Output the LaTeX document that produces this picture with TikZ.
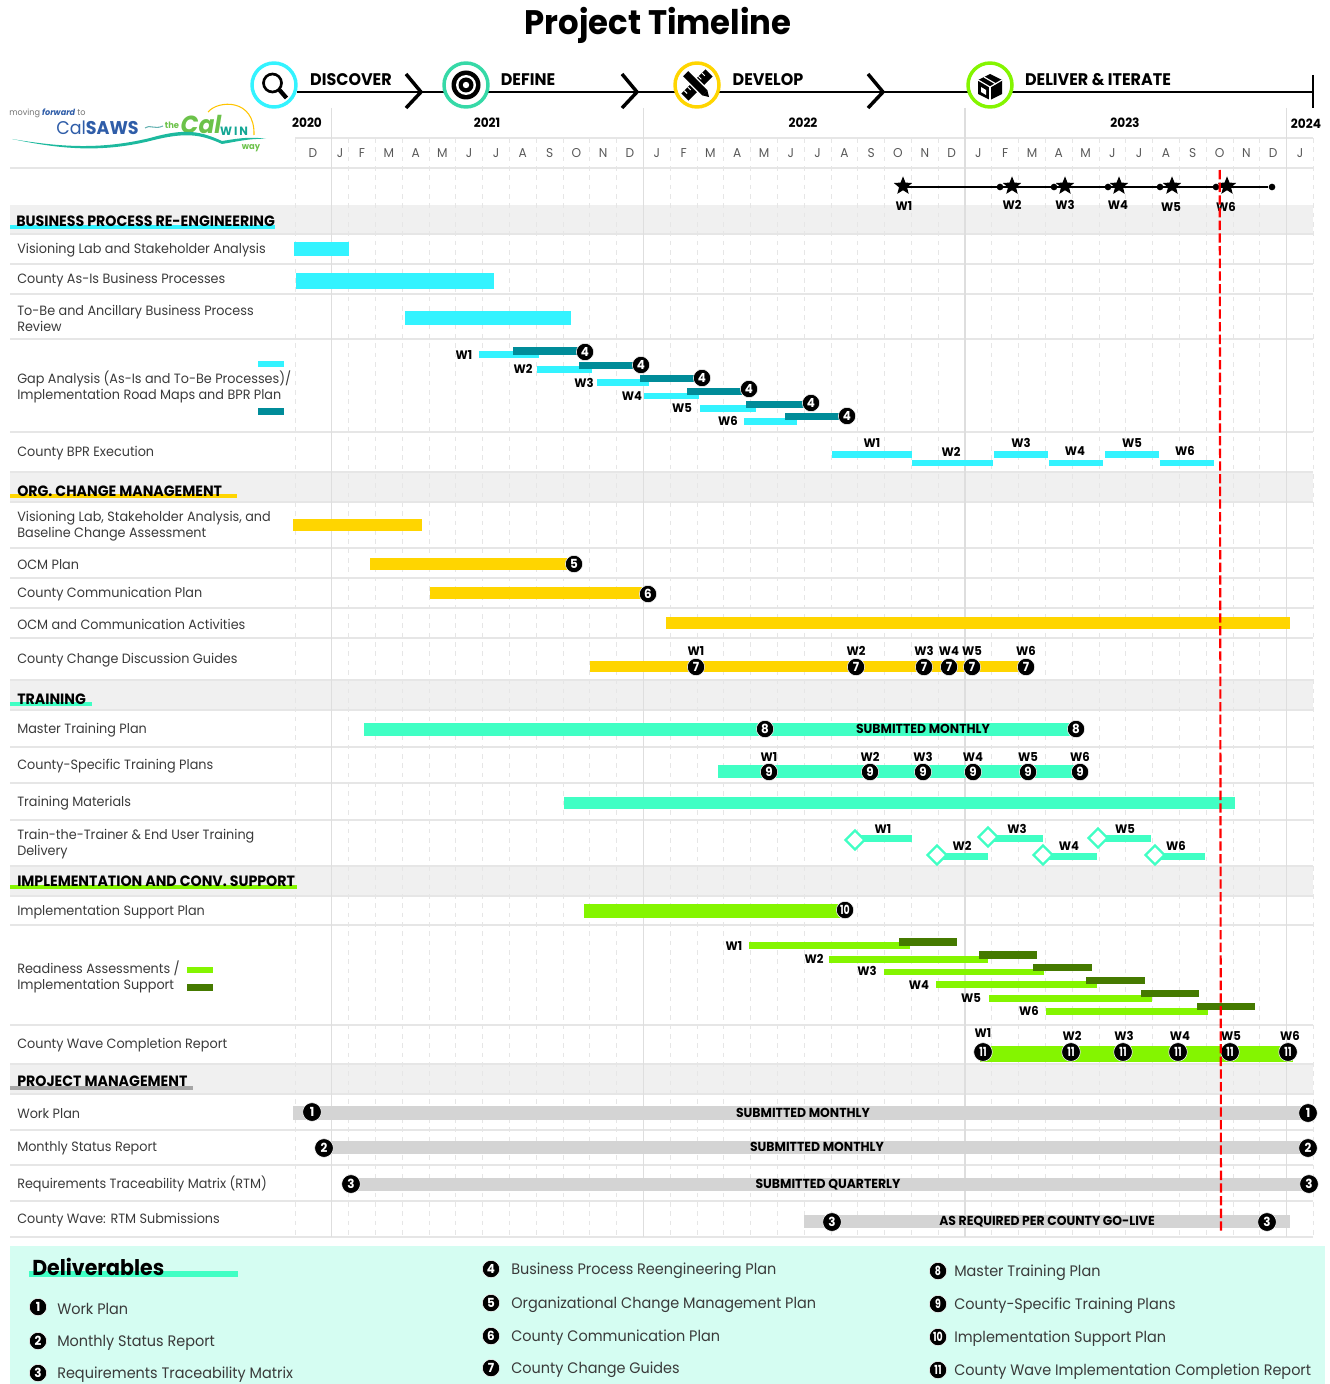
\documentclass[tikz,border=0pt]{standalone}
\usepackage{fontspec}
\setmainfont[FakeStretch=0.95]{Poppins}
\usetikzlibrary{shapes.geometric}

\definecolor{calcyan}{HTML}{33F3FF}
\definecolor{calteal}{HTML}{008C99}
\definecolor{calyellow}{HTML}{FFD500}
\definecolor{calmint}{HTML}{40FFC4}
\definecolor{callime}{HTML}{84F500}
\definecolor{calmoss}{HTML}{457A00}
\definecolor{calgray}{HTML}{D4D4D4}
\definecolor{calband}{HTML}{F0F0F0}
\definecolor{calrule}{HTML}{E6E6E6}
\definecolor{calpanel}{HTML}{D5FDF2}
\definecolor{caltext}{HTML}{3A3A3A}
\definecolor{calblue}{HTML}{2F5DA8}
\definecolor{calleaf}{HTML}{6CC24A}

\tikzset{
  rowlabel/.style={anchor=west,align=left,inner sep=0pt,yshift=-1pt,text=caltext,font=\fontsize{10.1}{12}\selectfont},
  headlabel/.style={anchor=west,inner sep=0pt,yshift=-0.5pt,text=black,font=\fontsize{11.2}{12}\selectfont\bfseries},
  phaselabel/.style={inner sep=0pt,text=black,font=\fontsize{12.6}{14}\selectfont\bfseries},
  yearlabel/.style={inner sep=0pt,text=black,font=\fontsize{9.6}{12}\selectfont\bfseries},
  monthlabel/.style={inner sep=0pt,text=black!65,font=\fontsize{9.6}{12}\selectfont},
  wavelabel/.style={inner sep=0pt,text=black,font=\fontsize{9.2}{12}\selectfont\bfseries},
  barlabel/.style={inner sep=0pt,text=black,font=\fontsize{9.8}{10}\selectfont\bfseries},
  badge/.style={circle,fill=black,draw=white,line width=0.4pt,inner sep=0pt,minimum size=14pt,text=white,font=\fontsize{9.4}{10}\selectfont\bfseries},
  smallbadge/.style={badge,minimum size=13pt},
  delivtext/.style={anchor=west,inner sep=0pt,yshift=-1.2pt,text=caltext,font=\fontsize{11.4}{14}\selectfont},
  phase/.style={circle,fill=white,line width=2.6pt,minimum size=33pt,inner sep=0pt},
  wavediamond/.style={diamond,draw=calmint,fill=white,line width=1.7pt,minimum size=15pt,inner sep=0pt},
  wavestar/.style={star,star points=5,star point ratio=2.3,fill=black,inner sep=0pt,minimum size=14.5pt},
  wavedot/.style={circle,fill=black,inner sep=0pt,minimum size=5pt},
  yearrule/.style={color=black!13,line width=0.8pt},
  monthrule/.style={color=calrule,line width=0.7pt,dash pattern=on 3.5pt off 3.5pt},
  rowrule/.style={color=calrule,line width=0.9pt},
  spine/.style={line width=1.9pt,color=black},
}

\begin{document}
\begin{tikzpicture}[x=0.75pt,y=-0.75pt]
    \useasboundingbox (0,0) rectangle (1330,1384);

    % section bands and the panel
    \foreach \ya/\yb in {205/234, 472/502, 680/710, 866/896, 1064/1094}
        \fill[calband] (10,\ya) rectangle (1313,\yb);
    \fill[calpanel] (10,1246) rectangle (1325,1384);

    % grid
    \foreach \y in {168,234,264,294,339,432,472,502,548,578,608,638,680,710,747,783,820,866,896,925,1025,1064,1094,1130,1165,1201,1237}
        \draw[rowrule] (10,\y) -- (1313,\y);
    \draw[rowrule] (295,138) -- (1313,138);
    \draw[monthrule] (295,138) -- (295,1237);
    \draw[monthrule] (1313,138) -- (1313,1237);
    \foreach \i in {0,...,35}
        \draw[monthrule] ({348.6+26.8*\i},138) -- ({348.6+26.8*\i},1237);
    \foreach \x in {331.6,643.4,965,1286.6}
        \draw[yearrule] (\x,108) -- (\x,1237);

    % title
    \node[inner sep=0pt,font=\fontsize{25.5}{30}\selectfont\bfseries] (title) at (658,25) {Project Timeline};

    % phases
    \coordinate (spinestart) at (297,92);
    \coordinate (spineend) at (1313,92);
    \coordinate (endtop) at (1313,75);
    \coordinate (endbot) at (1313,108);
    \draw[spine] (spinestart) -- (spineend);
    \draw[spine] (endtop) -- (endbot);
    \foreach \x in {406,622,868}
        \draw[line width=2.6pt] (\x,74) -- (\x+15,92) -- (\x,108);
    \node[phase,draw=calcyan] (discover) at (274,85) {};
    \node[phase,draw=calmint!85!black] (define) at (466,85) {};
    \node[phase,draw=calyellow] (develop) at (697,85) {};
    \node[phase,draw=callime] (deliver) at (990,85) {};
    \node[phaselabel] (discovertext) at (351,80) {DISCOVER};
    \node[phaselabel] (definetext) at (528,80) {DEFINE};
    \node[phaselabel] (developtext) at (768,80) {DEVELOP};
    \node[phaselabel] (delivertext) at (1098,80) {DELIVER \& ITERATE};

    % phase icons
    \draw[line width=2pt] (272.5,83) circle (9);
    \draw[line width=3.2pt] (279.5,90) -- (286.5,98);
    \fill[black] (466,85) circle (14.5);
    \fill[white] (466,85) circle (10);
    \fill[black] (466,85) circle (7.5);
    \fill[white] (466,85) circle (3.2);
    \begin{scope}[shift={(697,85)},rotate=45]
        \fill[black] (-17,-5) rectangle (17,5);
        \foreach \t in {-13,-8,-3,2,7,12}
            \draw[white,line width=0.7pt] (\t,-5) -- (\t,-1);
    \end{scope}
    \begin{scope}[shift={(697,85)},rotate=-45]
        \fill[white] (-17,-5) rectangle (14,5);
        \fill[black] (-16,-3.6) rectangle (11,3.6);
        \fill[black] (11,-3.6) -- (17,0) -- (11,3.6) -- cycle;
    \end{scope}
    \fill[black] (990,74) -- (1002,80) -- (1002,94) -- (990,100) -- (978,94) -- (978,80) -- cycle;
    \draw[white,line width=0.9pt] (978,80) -- (990,87) -- (1002,80);
    \draw[white,line width=0.9pt] (990,87) -- (990,100);
    \draw[white,line width=0.9pt] (984,77) -- (996,84);
    \fill[white] (981,87) -- (986,90) -- (986,95) -- (981,92) -- cycle;

    % logo
    \node[anchor=west,inner sep=0pt,text=black!55,font=\fontsize{6.4}{8}\selectfont] (logomoving) at (9,113) {moving \textcolor{calblue}{\bfseries\itshape forward} to};
    \node[anchor=west,inner sep=0pt,text=calblue,font=\fontsize{13.8}{18}\selectfont] (logosaws) at (56,128) {Cal\textbf{SAWS}};
    \node[inner sep=0pt,text=calleaf,font=\fontsize{6.6}{8}\selectfont\bfseries] (logothe) at (172,125) {the};
    \node[inner sep=0pt,text=calleaf,font=\fontsize{18.5}{24}\selectfont\bfseries\itshape] (logocal) at (201,124) {Cal};
    \node[inner sep=0pt,text=teal!70!calmint,font=\fontsize{9}{10}\selectfont\bfseries] (logowin) at (234,131) {W\,I\,N};
    \node[inner sep=0pt,text=calleaf,font=\fontsize{6.6}{8}\selectfont\bfseries] (logoway) at (251,148) {way};
    \draw[calyellow!80!orange,line width=0.8pt] (208,112) .. controls (218,100) and (255,98) .. (254,135);
    \draw[teal!60,line width=0.8pt] (145,128) .. controls (150,124) and (154,130) .. (163,126);
    \fill[teal!55!calmint] (12,139) .. controls (60,147) and (100,150) .. (150,138)
        .. controls (185,128) and (200,131) .. (222,141)
        .. controls (235,139) and (250,136) .. (266,139)
        .. controls (250,138) and (235,142) .. (222,144)
        .. controls (200,134) and (185,132) .. (150,141)
        .. controls (100,153) and (60,149) .. (12,139) -- cycle;

    % years and months
    \node[yearlabel] (y2020) at (307,123) {2020};
    \node[yearlabel] (y2021) at (487,123) {2021};
    \node[yearlabel] (y2022) at (803,123) {2022};
    \node[yearlabel] (y2023) at (1125,123) {2023};
    \node[yearlabel] (y2024) at (1306,124) {2024};
    \node[monthlabel] (mdec) at (313,153) {D};
    \node[monthlabel] (mjan) at (340,153) {J};
    \foreach \m [count=\i from 0] in {F,M,A,M,J,J,A,S,O,N,D,J,F,M,A,M,J,J,A,S,O,N,D,J,F,M,A,M,J,J,A,S,O,N,D,J}
        \node[monthlabel] (month\i) at ({362+26.8*\i},153) {\m};

    % wave stars
    \foreach \x/\lx/\ly [count=\i] in {903/904/206,1012/1012/205,1065/1065/205,1119/1118/205,1172/1171/207,1227/1226/207} {
        \node[wavestar] (wstar\i) at (\x,186) {};
        \node[wavelabel] (wname\i) at (\lx,\ly) {W\i};
    }
    \foreach \x [count=\i] in {1000,1054,1108,1160,1216,1272}
        \node[wavedot] (wdot\i) at (\x,187) {};
    \draw[line width=1.7pt] (wstar1 |- wdot6) -- (wdot6);

    % section headings
    \fill[calcyan] (10,225) rectangle (275,229);
    \fill[calyellow] (10,494) rectangle (237,498);
    \fill[calmint] (10,702) rectangle (92,706);
    \fill[callime] (10,885) rectangle (297,889);
    \fill[black!35] (10,1086) rectangle (193,1090);
    \node[headlabel] (headbpr) at (16,221) {BUSINESS PROCESS RE-ENGINEERING};
    \node[headlabel] (headocm) at (17,491) {ORG. CHANGE MANAGEMENT};
    \node[headlabel] (headtrain) at (17,699) {TRAINING};
    \node[headlabel] (headimpl) at (17,881) {IMPLEMENTATION AND CONV. SUPPORT};
    \node[headlabel] (headpm) at (17,1081) {PROJECT MANAGEMENT};

    % row labels
    \node[rowlabel] (rowvision) at (17,249) {Visioning Lab and Stakeholder Analysis};
    \node[rowlabel] (rowasis) at (17,279) {County As-Is Business Processes};
    \node[rowlabel] (rowtobe) at (17,317) {To-Be and Ancillary Business Process\\Review};
    \node[rowlabel] (rowgap) at (17,386) {Gap Analysis (As-Is and To-Be Processes)/\\Implementation Road Maps and BPR Plan};
    \node[rowlabel] (rowexec) at (17,452) {County BPR Execution};
    \node[rowlabel] (rowbase) at (17,525) {Visioning Lab, Stakeholder Analysis, and\\Baseline Change Assessment};
    \node[rowlabel] (rowocm) at (17,563) {OCM Plan};
    \node[rowlabel] (rowcomm) at (17,593) {County Communication Plan};
    \node[rowlabel] (rowactiv) at (17,623) {OCM and Communication Activities};
    \node[rowlabel] (rowguide) at (17,659) {County Change Discussion Guides};
    \node[rowlabel] (rowmaster) at (17,729) {Master Training Plan};
    \node[rowlabel] (rowspecific) at (17,765) {County-Specific Training Plans};
    \node[rowlabel] (rowmater) at (17,802) {Training Materials};
    \node[rowlabel] (rowttt) at (17,843) {Train-the-Trainer \& End User Training\\Delivery};
    \node[rowlabel] (rowimpl) at (17,911) {Implementation Support Plan};
    \node[rowlabel] (rowready) at (17,976) {Readiness Assessments /\\Implementation Support};
    \node[rowlabel] (rowwave) at (17,1044) {County Wave Completion Report};
    \node[rowlabel] (rowwork) at (17,1112) {Work Plan};
    \node[rowlabel] (rowstatus) at (17,1147) {Monthly Status Report};
    \node[rowlabel] (rowrtm) at (17,1183) {Requirements Traceability Matrix (RTM)};
    \node[rowlabel] (rowsubm) at (17,1219) {County Wave: RTM Submissions};

    % business process bars
    \foreach \xa/\ya/\xb/\yb in {294/242/349/256, 296/273/494/289, 405/311/571/325, 258/361/284/367,
        479/351/539/358, 537/366/592/373, 597/379/649/386, 644/393/699/399, 700/405/756/412, 744/418/797/425,
        832/451/912/458, 912/460/993/466, 994/451/1048/458, 1049/460/1103/466, 1105/451/1159/458, 1160/460/1214/466}
        \fill[calcyan] (\xa,\ya) rectangle (\xb,\yb);
    \foreach \xa/\ya/\xb/\yb in {258/408/284/415, 513/347/581/355, 579/362/637/369, 640/375/697/382,
        687/388/745/395, 746/401/807/408, 785/413/843/420}
        \fill[calteal] (\xa,\ya) rectangle (\xb,\yb);
    \foreach \x/\y [count=\i] in {585/352,641/365,702/378,749/389,811/403,847/416}
        \node[smallbadge] (gapdoc\i) at (\x,\y) {4};
    \foreach \x/\y [count=\i] in {464/355,523/369,584/383,632/396,682/408,728/421}
        \node[wavelabel] (gapwave\i) at (\x,\y) {W\i};
    \foreach \x/\y [count=\i] in {872/443,951/452,1021/443,1075/451,1132/443,1185/451}
        \node[wavelabel] (execwave\i) at (\x,\y) {W\i};

    % change management bars
    \foreach \xa/\ya/\xb/\yb in {293/519/422/531, 370/558/570/570, 430/587/645/599, 666/617/1290/629, 590/661/1030/672}
        \fill[calyellow] (\xa,\ya) rectangle (\xb,\yb);
    \node[smallbadge] (ocmdoc) at (574,564) {5};
    \node[smallbadge] (commdoc) at (648,594) {6};
    \foreach \x [count=\i] in {696,856,924,949,972,1026} {
        \node[smallbadge] (guidedoc\i) at (\x,667) {7};
        \node[wavelabel] (guidewave\i) at (\x,651) {W\i};
    }

    % training bars
    \foreach \xa/\ya/\xb/\yb in {364/723/1072/736, 718/765/1080/778, 564/797/1235/809,
        855/835/912/842, 937/853/988/860, 988/835/1043/842, 1043/853/1097/860, 1098/835/1151/842, 1155/853/1205/860}
        \fill[calmint] (\xa,\ya) rectangle (\xb,\yb);
    \node[smallbadge] (masterdoca) at (765,729) {8};
    \node[smallbadge] (masterdocb) at (1076,729) {8};
    \node[barlabel] (mastertext) at (923,729) {SUBMITTED MONTHLY};
    \foreach \x [count=\i] in {769,870,923,973,1028,1080} {
        \node[smallbadge] (specdoc\i) at (\x,772) {9};
        \node[wavelabel] (specwave\i) at (\x,757) {W\i};
    }
    \foreach \x/\y/\lx/\ly [count=\i] in {855/840/883/829,937/855/962/846,988/837/1017/829,1043/855/1069/846,1098/838/1125/829,1155/855/1176/846} {
        \node[wavediamond] (tttmark\i) at (\x,\y) {};
        \node[wavelabel] (tttwave\i) at (\lx,\ly) {W\i};
    }

    % implementation bars
    \foreach \xa/\ya/\xb/\yb in {584/904/840/918, 187/967/213/973,
        749/942/910/949, 829/956/988/963, 884/969/1044/975, 936/981/1097/988, 989/995/1152/1002, 1046/1008/1208/1015,
        980/1046/1293/1062}
        \fill[callime] (\xa,\ya) rectangle (\xb,\yb);
    \foreach \xa/\ya/\xb/\yb in {187/984/213/991, 899/938/957/946, 979/951/1037/959, 1033/964/1092/971,
        1086/977/1145/984, 1141/990/1199/997, 1197/1003/1255/1010}
        \fill[calmoss] (\xa,\ya) rectangle (\xb,\yb);
    \node[smallbadge] (impldoc) at (845,910) {\addfontfeature{FakeStretch=0.75}10};
    \foreach \x/\y [count=\i] in {734/946,814/959,867/971,919/985,971/998,1029/1011}
        \node[wavelabel] (readywave\i) at (\x,\y) {W\i};
    \foreach \x/\lx/\ly [count=\i] in {983/983/1033,1071/1072/1036,1123/1124/1036,1178/1180/1036,1230/1231/1036,1288/1290/1036} {
        \node[badge] (wavedoc\i) at (\x,1052) {\addfontfeature{FakeStretch=0.75}11};
        \node[wavelabel] (wavewave\i) at (\lx,\ly) {W\i};
    }

    % project management bars
    \foreach \xa/\ya/\xb/\yb in {293/1106/1305/1120, 320/1141/1305/1154, 345/1178/1310/1191, 804/1215/1290/1228}
        \fill[calgray] (\xa,\ya) rectangle (\xb,\yb);
    \node[barlabel] (worktext) at (803,1113) {SUBMITTED MONTHLY};
    \node[barlabel] (statustext) at (817,1147) {SUBMITTED MONTHLY};
    \node[barlabel] (rtmtext) at (828,1185) {SUBMITTED QUARTERLY};
    \node[barlabel] (subtext) at (1047,1222) {AS REQUIRED PER COUNTY GO-LIVE};
    \node[badge] (workdoca) at (312,1112) {1};
    \node[badge] (workdocb) at (1308,1113) {1};
    \node[badge] (statusdoca) at (324,1148) {2};
    \node[badge] (statusdocb) at (1308,1148) {2};
    \node[badge] (rtmdoca) at (351,1184) {3};
    \node[badge] (rtmdocb) at (1309,1184) {3};
    \node[badge] (subdoca) at (832,1222) {3};
    \node[badge] (subdocb) at (1267,1222) {3};

    % status date
    \coordinate (todaytop) at (1219.7,170);
    \coordinate (todaybot) at (1221,1232);
    \draw[red,line width=1.6pt,dash pattern=on 7pt off 2.5pt] (todaytop) -- (todaybot);

    % deliverables
    \fill[calmint] (29,1271) rectangle (238,1277);
    \node[anchor=west,inner sep=0pt,font=\fontsize{16.2}{20}\selectfont\bfseries] (delivtitle) at (32,1267) {Deliverables};
    \foreach \n/\y/\t in {1/1307/{Work Plan},2/1341/{Monthly Status Report},3/1373/{Requirements Traceability Matrix}} {
        \node[smallbadge] (deliv\n) at (38,\y) {\n};
        \node[delivtext] (delivname\n) at (57,\y) {\t};
    }
    \foreach \n/\y/\t in {4/1269/{Business Process Reengineering Plan},5/1303/{Organizational Change Management Plan},6/1336/{County Communication Plan},7/1368/{County Change Guides}} {
        \node[smallbadge] (deliv\n) at (491,\y) {\n};
        \node[delivtext] (delivname\n) at (511,\y) {\t};
    }
    \foreach \n/\y/\t in {8/1271/{Master Training Plan},9/1304/{County-Specific Training Plans},10/1337/{Implementation Support Plan},11/1370/{County Wave Implementation Completion Report}} {
        \node[smallbadge] (deliv\n) at (938,\y) {\addfontfeature{FakeStretch=0.75}\n};
        \node[delivtext] (delivname\n) at (954,\y) {\t};
    }
\end{tikzpicture}
\end{document}
